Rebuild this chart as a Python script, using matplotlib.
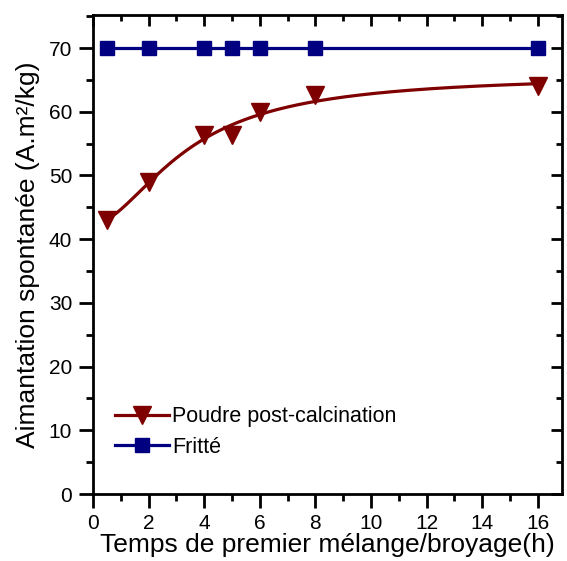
import numpy as np
import matplotlib.pyplot as plt
from matplotlib.ticker import MultipleLocator

plt.rcParams['font.family'] = ['Liberation Sans', 'DejaVu Sans']

# Donnees
temps = [0.5, 2, 4, 5, 6, 8, 16]
poudre = [43.0, 49.0, 56.3, 56.3, 59.9, 62.7, 64.0]
fritte = [70, 70, 70, 70, 70, 70, 70]

# Ajustement de type Hill : y = A - B/(1+(x/k)^p), recherche sur k et p
x = np.array(temps)
y = np.array(poudre)
best = None
for k in np.linspace(1, 12, 111):
    for p in np.linspace(0.8, 3.0, 111):
        M = np.column_stack([np.ones_like(x), -1 / (1 + (x / k) ** p)])
        coef = np.linalg.lstsq(M, y, rcond=None)[0]
        err = np.sum((M @ coef - y) ** 2)
        if best is None or err < best[0]:
            best = (err, k, p, coef)
_, k, p, (A, B) = best
xf = np.linspace(x.min(), x.max(), 300)
yf = A - B / (1 + (xf / k) ** p)

rouge = '#7f0000'
bleu = '#000080'

fig = plt.figure(figsize=(5.67, 5.61), dpi=100)
ax = fig.add_axes([0.164, 0.1194, 0.827, 0.854])

ax.plot(xf, yf, color=rouge, lw=2.3, zorder=2)
ax.plot(temps, poudre, 'v', color=rouge, ms=12.5, zorder=3)
ax.plot(temps, fritte, '-s', color=bleu, lw=2.3, ms=9.5, zorder=3)

# legende construite a la main pour avoir le style ligne+symbole
h1, = ax.plot([], [], '-v', color=rouge, lw=2.3, ms=12.5)
h2, = ax.plot([], [], '-s', color=bleu, lw=2.3, ms=9.5)
ax.legend([h1, h2], ['Poudre post-calcination', 'Fritté'], loc='lower left',
          bbox_to_anchor=(0.005, 0.035), frameon=False, fontsize=15.5,
          handlelength=2.5, handletextpad=0.15, labelspacing=0.45)

ax.set_xlim(0, 16.87)
ax.set_ylim(0, 75.2)
ax.xaxis.set_major_locator(MultipleLocator(2))
ax.xaxis.set_minor_locator(MultipleLocator(1))
ax.yaxis.set_major_locator(MultipleLocator(10))
ax.yaxis.set_minor_locator(MultipleLocator(5))

for s in ax.spines.values():
    s.set_linewidth(2)
ax.tick_params(which='both', direction='out', width=2, labelsize=15,
               top=False, right=False, pad=5)
ax.tick_params(axis='x', which='major', pad=4.5)
ax.tick_params(which='major', length=10)
ax.tick_params(which='minor', length=5)

# ticks miroirs vers l'interieur en haut et a droite
ax2 = ax.secondary_xaxis('top')
ax2.xaxis.set_major_locator(MultipleLocator(2))
ax2.xaxis.set_minor_locator(MultipleLocator(1))
ax2.tick_params(which='both', direction='in', width=2, labeltop=False)
ax2.tick_params(which='major', length=8)
ax2.tick_params(which='minor', length=4)
ax3 = ax.secondary_yaxis('right')
ax3.yaxis.set_major_locator(MultipleLocator(10))
ax3.yaxis.set_minor_locator(MultipleLocator(5))
ax3.tick_params(which='both', direction='in', width=2, labelright=False)
ax3.tick_params(which='major', length=8)
ax3.tick_params(which='minor', length=4)

ax.set_xlabel('Temps de premier mélange/broyage(h)', fontsize=19, labelpad=0)
ax.set_ylabel('Aimantation spontanée (A.m²/kg)', fontsize=19, labelpad=6)

fig.savefig('out.png', dpi=100)
